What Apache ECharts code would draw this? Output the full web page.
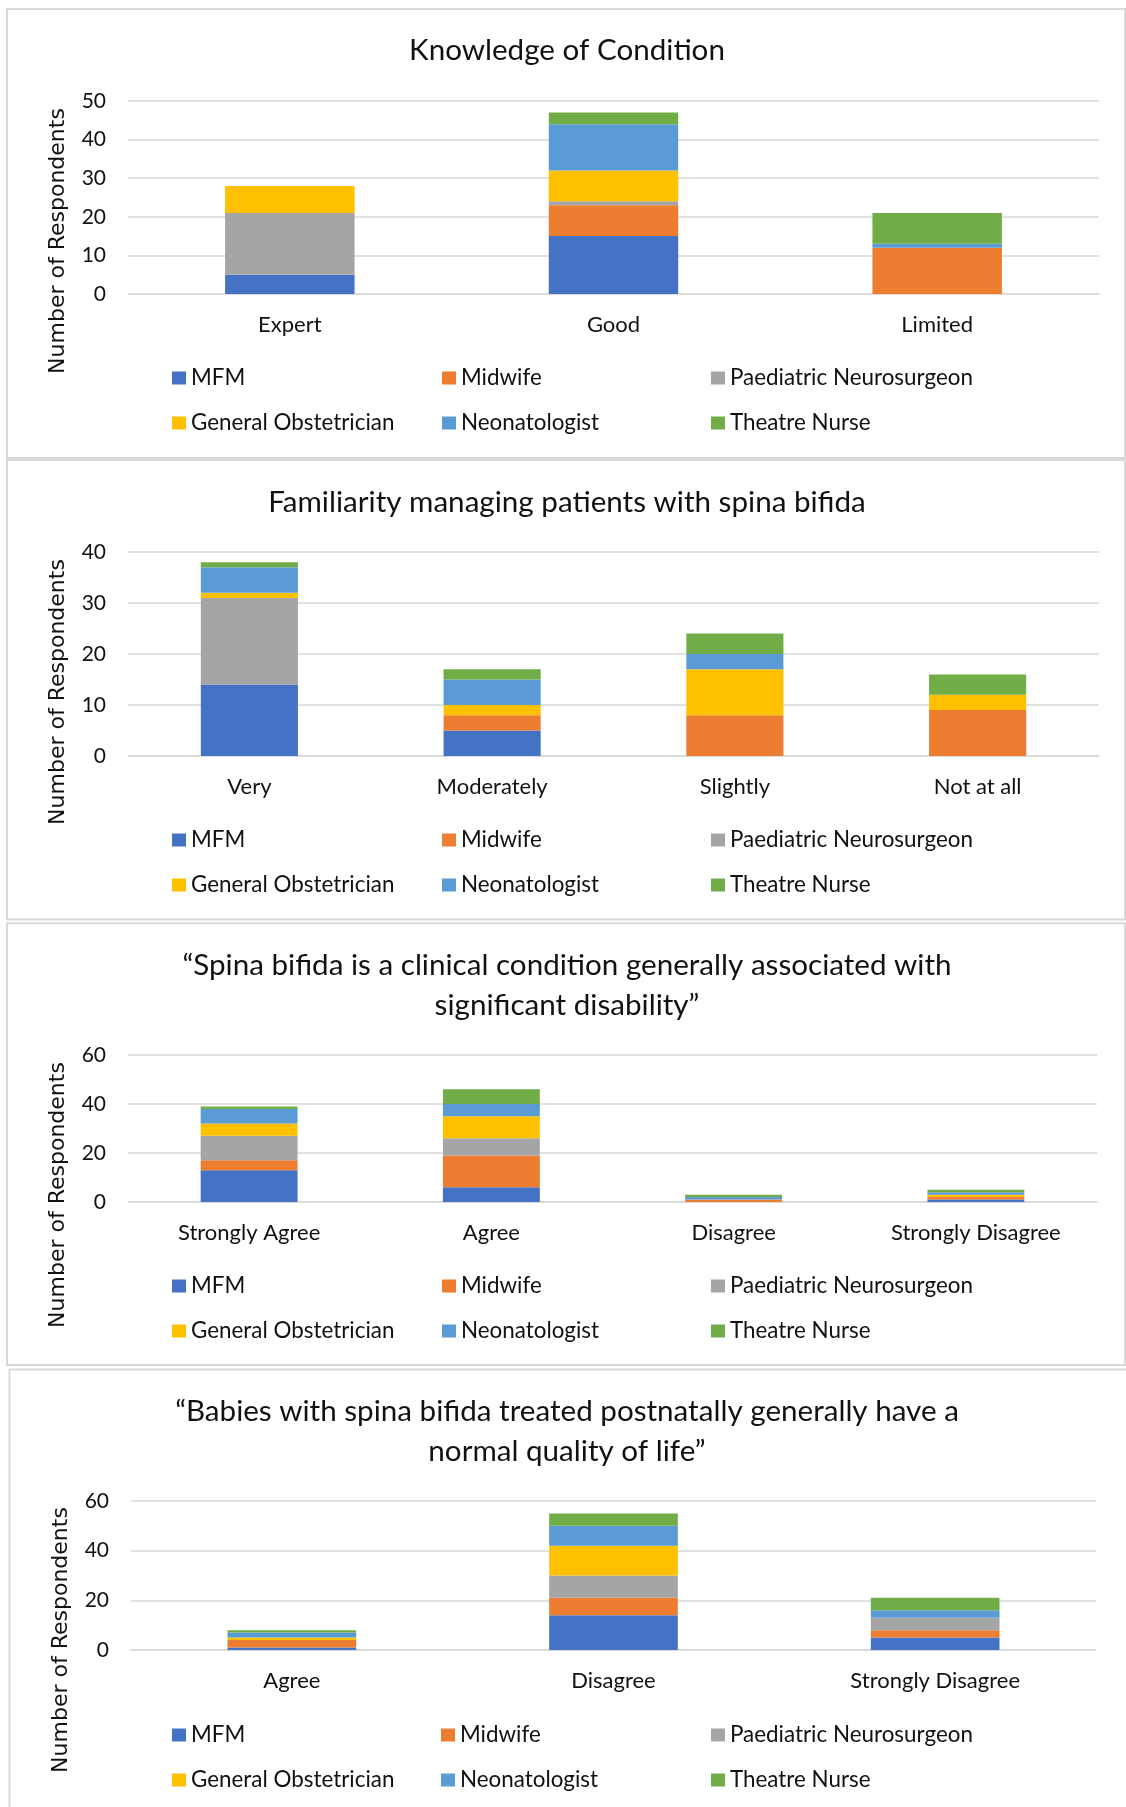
<!DOCTYPE html>
<html>
<head>
<meta charset="utf-8">
<script src="https://cdn.jsdelivr.net/npm/echarts@6/dist/echarts.min.js"></script>
<style>
html,body{margin:0;padding:0;background:#fff;}
#c{width:1126px;height:1807px;}
</style>
</head>
<body>
<div id="c"></div>
<script>
// ---- data ----
const seriesNames = ['MFM','Midwife','Paediatric Neurosurgeon','General Obstetrician','Neonatologist','Theatre Nurse'];
const seriesColors = ['#4472C4','#ED7D31','#A5A5A5','#FFC000','#5B9BD5','#70AD47'];

const knowledgeTitle = 'Knowledge of Condition';
const knowledgeCats = ['Expert','Good','Limited'];
// rows follow seriesNames order
const knowledgeData = [
  [5,15,0],
  [0,8,12],
  [16,1,0],
  [7,8,0],
  [0,12,1],
  [0,3,8]
];
const knowledgeTicks = {max:50, interval:10};

const familiarityTitle = 'Familiarity managing patients with spina bifida';
const familiarityCats = ['Very','Moderately','Slightly','Not at all'];
const familiarityData = [
  [14,5,0,0],
  [0,3,8,9],
  [17,0,0,0],
  [1,2,9,3],
  [5,5,3,0],
  [1,2,4,4]
];
const familiarityTicks = {max:40, interval:10};

const disabilityTitle = '\u201cSpina bifida is a clinical condition generally associated with\nsignificant disability\u201d';
const disabilityCats = ['Strongly Agree','Agree','Disagree','Strongly Disagree'];
const disabilityData = [
  [13,6,0,1],
  [4,13,1,1],
  [10,7,0,0],
  [5,9,0,1],
  [6,5,1,1],
  [1,6,1,1]
];
const disabilityTicks = {max:60, interval:20};

const qualityTitle = '\u201cBabies with spina bifida treated postnatally generally have a\nnormal quality of life\u201d';
const qualityCats = ['Agree','Disagree','Strongly Disagree'];
const qualityData = [
  [1,14,5],
  [3,7,3],
  [0,9,5],
  [1,12,0],
  [2,8,3],
  [1,5,5]
];
const qualityTicks = {max:60, interval:20};

const yAxisName = 'Number of Respondents';

// ---- layout ----
const FONT = 'Lato';
const TXT = '#111';
const panels = [
  {title:knowledgeTitle, cats:knowledgeCats, data:knowledgeData, ticks:knowledgeTicks,
   box:[7,9,1118,449], titleY:50, grid:{left:128,width:971,top:101,height:193},
   nameX:58, nameY:241, legendRows:[378,423], legendX:[172,442,711]},
  {title:familiarityTitle, cats:familiarityCats, data:familiarityData, ticks:familiarityTicks,
   box:[7,460,1118,459.5], titleY:502, grid:{left:128,width:971,top:552,height:204},
   nameX:58, nameY:692, legendRows:[840,885], legendX:[172,442,711]},
  {title:disabilityTitle, cats:disabilityCats, data:disabilityData, ticks:disabilityTicks,
   box:[7,923.3,1118,441.7], titleY:985, grid:{left:128,width:969,top:1055,height:147},
   nameX:58, nameY:1195, legendRows:[1286,1331], legendX:[172,442,711]},
  {title:qualityTitle, cats:qualityCats, data:qualityData, ticks:qualityTicks,
   box:[9.5,1369.5,1118,445], titleY:1431.5, grid:{left:131,width:965,top:1501,height:149},
   nameX:61, nameY:1640, legendRows:[1735,1780], legendX:[172,441,711]}
];

const option = {
  animation:false,
  backgroundColor:'#fff',
  title:[], grid:[], xAxis:[], yAxis:[], legend:[], series:[], graphic:[]
};

panels.forEach((p, i) => {
  const lines = p.title.split('\n').length;
  option.title.push({
    text:p.title, left:567, top:p.titleY - lines*20, textAlign:'center', padding:0,
    textStyle:{fontFamily:FONT, fontSize:29.6, fontWeight:'normal', color:TXT, lineHeight:40}
  });
  option.grid.push(Object.assign({containLabel:false}, p.grid));
  option.xAxis.push({
    type:'category', gridIndex:i, data:p.cats,
    axisTick:{show:false},
    axisLine:{lineStyle:{color:'#d9d9d9', width:1.5}},
    axisLabel:{fontFamily:FONT, fontSize:22, color:TXT, margin:20}
  });
  option.yAxis.push({
    type:'value', gridIndex:i, min:0, max:p.ticks.max, interval:p.ticks.interval,
    axisLine:{show:false}, axisTick:{show:false},
    splitLine:{lineStyle:{color:'#d9d9d9', width:1.5}},
    axisLabel:{fontFamily:FONT, fontSize:21, color:TXT, margin:22}
  });
  seriesNames.forEach((n, k) => {
    option.series.push({
      type:'bar', name:n, xAxisIndex:i, yAxisIndex:i, stack:'s'+i,
      barWidth:'40%', data:p.data[k],
      itemStyle:{color:seriesColors[k]}
    });
    const row = Math.floor(k/3), col = k%3;
    option.legend.push({
      data:[n], left:p.legendX[col], top:p.legendRows[row]-11, padding:0,
      icon:'rect', itemWidth:14, itemHeight:13, itemGap:0,
      selectedMode:false,
      textStyle:{fontFamily:FONT, fontSize:22.4, color:TXT}
    });
  });
  option.graphic.push({
    type:'rect', silent:true, z:-1,
    shape:{x:p.box[0], y:p.box[1], width:p.box[2], height:p.box[3]},
    style:{fill:'none', stroke:'#d9d9d9', lineWidth:2}
  });
  option.graphic.push({
    type:'text', silent:true, x:p.nameX, y:p.nameY, rotation:Math.PI/2,
    style:{text:yAxisName, fontFamily:'DejaVu Sans', fontSize:22, fill:TXT,
           textAlign:'center', textVerticalAlign:'middle'}
  });
});

const chart = echarts.init(document.getElementById('c'), null, {renderer:'canvas'});
chart.setOption(option);
</script>
</body>
</html>
